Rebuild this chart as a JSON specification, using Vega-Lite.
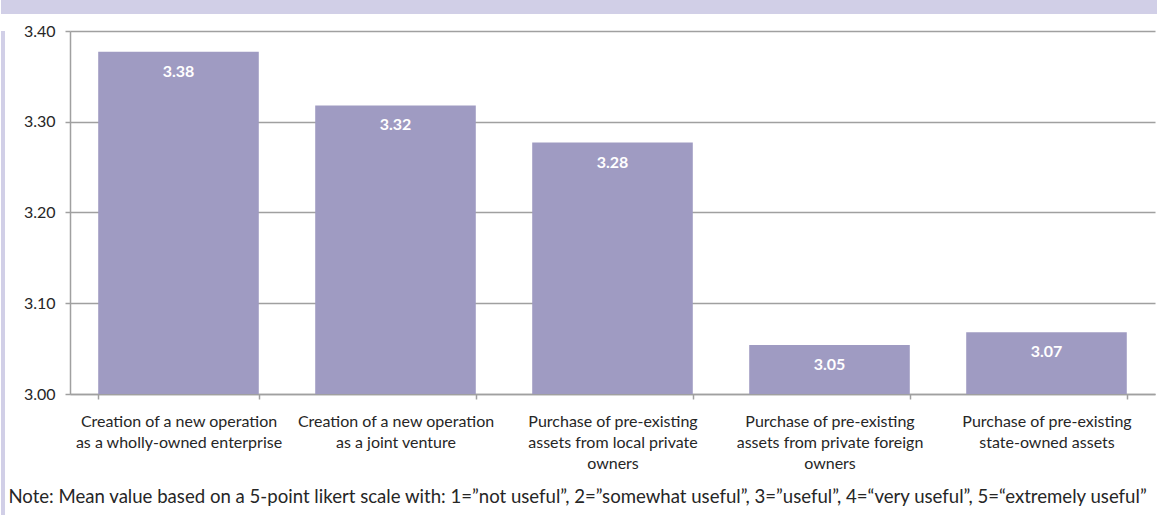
{
  "$schema": "https://vega.github.io/schema/vega-lite/v6.json",
  "padding": 0,
  "background": "white",
  "spacing": 9,
  "config": {
    "font": "Lato",
    "view": {"stroke": null},
    "axis": {
      "labelFont": "Lato",
      "labelFontSize": 16,
      "labelColor": "#262626",
      "domainColor": "#a0a0a0",
      "tickColor": "#a0a0a0",
      "gridColor": "#a0a0a0",
      "domainWidth": 1.5,
      "tickWidth": 1.5,
      "gridWidth": 1.5
    }
  },
  "vconcat": [
    {
      "width": 1157,
      "height": 14,
      "view": {"fill": "#d1cfe7", "stroke": null},
      "data": {"values": [{"d": 0}]},
      "mark": {"type": "point", "opacity": 0},
      "encoding": {}
    },
    {
      "spacing": 2,
      "hconcat": [
        {
          "width": 4,
          "height": 491,
          "view": {"fill": "#d1cfe7", "stroke": null},
          "data": {"values": [{"d": 0}]},
          "mark": {"type": "point", "opacity": 0},
          "encoding": {}
        },
        {
          "width": 1085,
          "height": 363,
          "data": {
            "values": [
              {"method": "Creation of a new operation|as a wholly-owned enterprise", "mean": 3.377},
              {"method": "Creation of a new operation|as a joint venture", "mean": 3.318},
              {"method": "Purchase of pre-existing|assets from local private|owners", "mean": 3.277},
              {"method": "Purchase of pre-existing|assets from private foreign|owners", "mean": 3.054},
              {"method": "Purchase of pre-existing|state-owned assets", "mean": 3.068}
            ]
          },
          "title": {
            "text": "Note: Mean value based on a 5-point likert scale with: 1=”not useful”, 2=”somewhat useful”, 3=”useful”, 4=“very useful”, 5=“extremely useful”",
            "orient": "bottom",
            "anchor": "start",
            "frame": "bounds",
            "font": "Lato",
            "fontSize": 18.6,
            "fontWeight": "normal",
            "color": "#262626",
            "offset": 17,
            "dx": -15
          },
          "encoding": {
            "x": {
              "field": "method",
              "type": "nominal",
              "sort": null,
              "scale": {"paddingInner": 0.26, "paddingOuter": 0.13},
              "axis": {
                "title": null,
                "labelAngle": 0,
                "labelLimit": 300,
                "labelExpr": "split(datum.label, '|')",
                "labelLineHeight": 21,
                "labelPadding": 14,
                "tickBand": "extent",
                "tickSize": 5,
                "grid": false
              }
            }
          },
          "layer": [
            {
              "mark": {"type": "bar", "color": "#9f9bc2"},
              "encoding": {
                "y": {
                  "field": "mean",
                  "type": "quantitative",
                  "scale": {"domain": [3.0, 3.4], "zero": false},
                  "axis": {
                    "title": null,
                    "values": [3.0, 3.1, 3.2, 3.3, 3.4],
                    "format": ".2f",
                    "tickSize": 5,
                    "labelPadding": 10,
                    "grid": true
                  }
                },
                "y2": {"datum": 3.0}
              }
            },
            {
              "mark": {"type": "text", "color": "white", "fontWeight": "bold", "fontSize": 16, "baseline": "middle", "dy": 20},
              "encoding": {
                "y": {"field": "mean", "type": "quantitative"},
                "text": {"field": "mean", "type": "quantitative", "format": ".2f"}
              }
            }
          ]
        }
      ]
    }
  ]
}
